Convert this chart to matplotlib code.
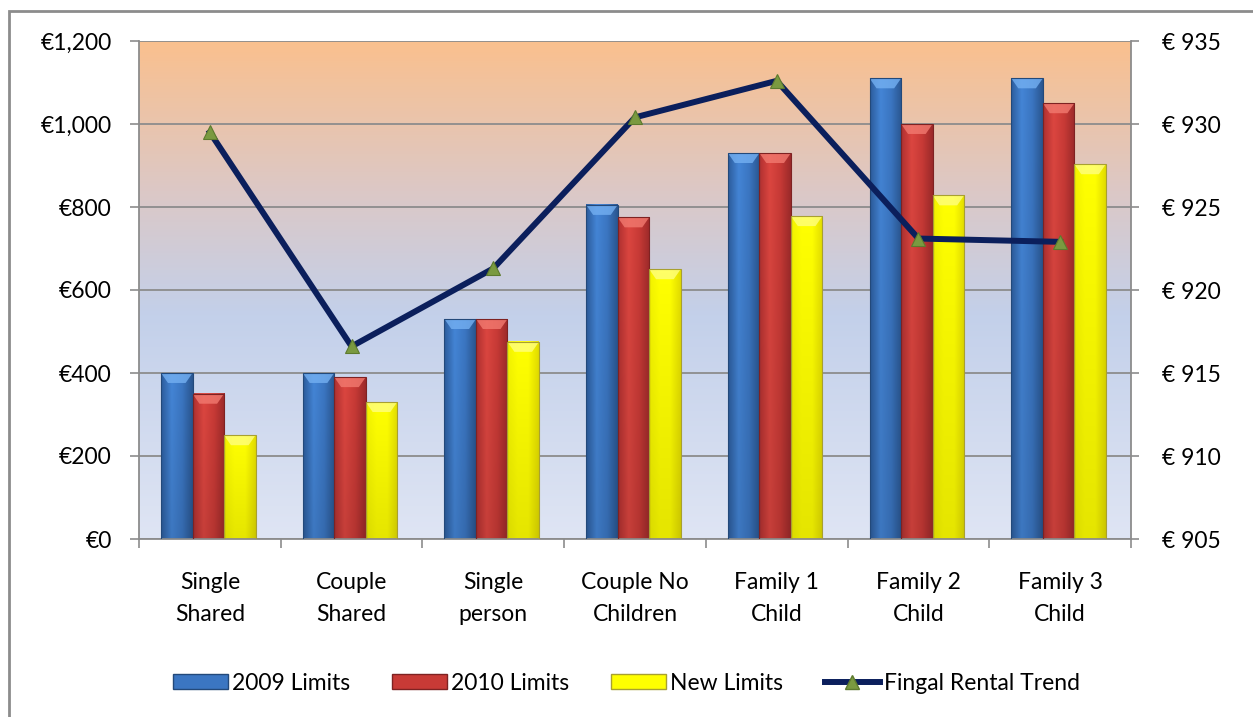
import matplotlib
matplotlib.use("Agg")
import matplotlib.pyplot as plt
import numpy as np
from matplotlib.colors import LinearSegmentedColormap
from matplotlib.patches import Rectangle, Polygon, Patch
from matplotlib.lines import Line2D

plt.rcParams["font.family"] = ["Lato", "DejaVu Sans"]

categories = ["Single\nShared", "Couple\nShared", "Single\nperson", "Couple No\nChildren",
              "Family 1\nChild", "Family 2\nChild", "Family 3\nChild"]
limits_2009 = [400, 400, 530, 805, 930, 1110, 1110]
limits_2010 = [350, 390, 530, 775, 930, 1000, 1050]
new_limits = [250, 330, 475, 650, 778, 828, 903]
fingal_trend = [929.5, 916.6, 921.3, 930.4, 932.6, 923.1, 922.9]

left_ticks = [0, 200, 400, 600, 800, 1000, 1200]
left_labels = ["€0", "€200", "€400", "€600", "€800", "€1,000", "€1,200"]
right_ticks = [905, 910, 915, 920, 925, 930, 935]
right_labels = ["€ 905", "€ 910", "€ 915", "€ 920", "€ 925", "€ 930", "€ 935"]

# estilos de cada serie: (perfil horizontal, color bisel, borde)
estilos = {
    "2009 Limits": (["#2c5c9c", "#4485d6", "#3b76c2", "#2a5690"], "#74b0f2", "#23497a"),
    "2010 Limits": (["#b03030", "#dc4640", "#c83a36", "#9c2a2a"], "#f27a70", "#7e2222"),
    "New Limits": (["#f2f200", "#ffff00", "#ffff00", "#e2dc00"], "#ffff80", "#a8a030"),
}
series = [("2009 Limits", limits_2009), ("2010 Limits", limits_2010), ("New Limits", new_limits)]

fig = plt.figure(figsize=(12.53, 7.17), dpi=100)
ax = fig.add_axes([139 / 1253, 1 - 539 / 717, (1131 - 139) / 1253, (539 - 41) / 717])

# fondo degradado del area de trazado
fondo = LinearSegmentedColormap.from_list(
    "fondo", [(0, "#dfe5f4"), (0.45, "#c3d0ea"), (0.7, "#dcc8c6"), (1, "#fac08e")])
grad = np.linspace(0, 1, 256).reshape(-1, 1)
ax.imshow(grad, cmap=fondo, origin="lower", extent=[0, 1, 0, 1],
          transform=ax.transAxes, aspect="auto", zorder=0)

w = 1 / 4.5
bevel = 24
for j, (nombre, valores) in enumerate(series):
    perfil, col_bisel, borde = estilos[nombre]
    cmap = LinearSegmentedColormap.from_list(nombre, perfil)
    for i, v in enumerate(valores):
        x0 = i + (j - 1.55) * w
        x1 = x0 + w
        img = cmap(np.linspace(0, 1, 64))[None, :, :3]
        vert = np.linspace(0.9, 1.0, 32)[:, None, None]
        ax.imshow(img * vert, extent=[x0, x1, 0, v], origin="lower",
                  aspect="auto", zorder=2, interpolation="bilinear")
        ins = w * 0.22
        ax.add_patch(Polygon([[x0, v], [x1, v], [x1 - ins, v - bevel], [x0 + ins, v - bevel]],
                             closed=True, facecolor=col_bisel, edgecolor="none",
                             alpha=0.8, zorder=3))
        ax.add_patch(Rectangle((x0, 0), w, v, fill=False, edgecolor=borde,
                               linewidth=0.8, zorder=4))

ax.set_xlim(-0.5, 6.5)
ax.set_ylim(0, 1200)
ax.set_yticks(left_ticks)
ax.set_yticklabels(left_labels)
ax.set_xticks(range(len(categories)))
ax.set_xticklabels(categories, linespacing=1.6)
ax.set_xticks(np.arange(-0.5, 7, 1), minor=True)
ax.tick_params(axis="x", which="major", length=0, pad=24, labelsize=16.5)
ax.tick_params(axis="x", which="minor", length=6.5, color="#8c8c8c", width=1.2, direction="out")
ax.tick_params(axis="y", length=6.5, color="#8c8c8c", width=1.2, pad=13, labelsize=16.5)
ax.grid(axis="y", color="#8c8c8c", linewidth=1.3, zorder=1)
ax.set_axisbelow(True)
for s in ax.spines.values():
    s.set_color("#8c8c8c")
    s.set_linewidth(1.3)
ax.spines["top"].set_visible(False)
ax.spines["right"].set_visible(False)

ax2 = ax.twinx()
ax2.plot(range(len(categories)), fingal_trend, color="#0b1f5c", linewidth=4.3,
         marker="^", markersize=10, markerfacecolor="#7a9a40", markeredgecolor="#5d7a2e",
         markeredgewidth=0.8, zorder=5)
ax2.set_ylim(905, 935)
ax2.set_yticks(right_ticks)
ax2.set_yticklabels(right_labels)
ax2.tick_params(axis="y", length=6, color="#8c8c8c", width=1.2, pad=16, labelsize=16.5)
for s in ax2.spines.values():
    s.set_color("#8c8c8c")
    s.set_linewidth(1.3)
ax2.spines["top"].set_visible(False)
ax2.spines["left"].set_visible(False)
ax2.spines["bottom"].set_visible(False)

handles = [
    Patch(facecolor="#3b76c2", edgecolor="#23497a"),
    Patch(facecolor="#c83a36", edgecolor="#7e2222"),
    Patch(facecolor="#ffff00", edgecolor="#a8a030"),
    Line2D([0], [0], color="#0b1f5c", linewidth=4.3, marker="^", markersize=10,
           markerfacecolor="#7a9a40", markeredgecolor="#5d7a2e"),
]
etiquetas = ["2009 Limits", "2010 Limits", "New Limits", "Fingal Rental Trend"]
fig.legend(handles, etiquetas, loc="center", bbox_to_anchor=(0.5, 1 - 683 / 717),
           ncol=4, frameon=False, fontsize=16.5, handlelength=2.4, handleheight=0.6,
           handletextpad=0.2, columnspacing=1.8)

# borde exterior del grafico
fig.patches.append(Rectangle((9 / 1253, -0.05), 1.1, 1 - 11 / 717 + 0.05,
                             transform=fig.transFigure, fill=False,
                             edgecolor="#8c8c8c", linewidth=2))

fig.savefig("out.png", dpi=100)
